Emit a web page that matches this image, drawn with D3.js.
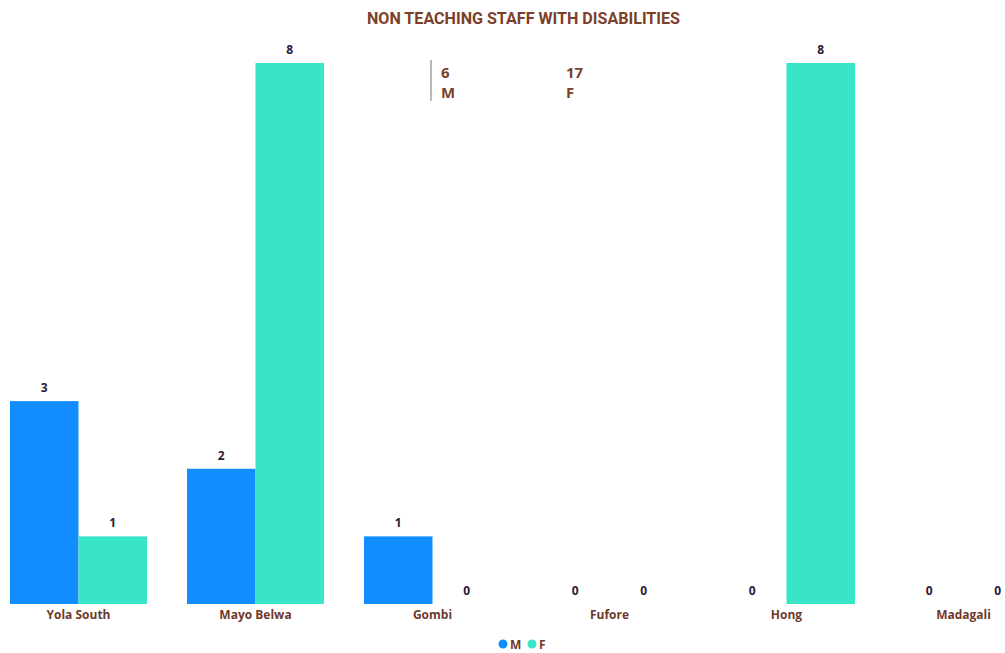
<!DOCTYPE html>
<html>
<head>
<meta charset="utf-8">
<script src="https://cdn.jsdelivr.net/npm/d3@7"></script>
<style>
  html, body { margin: 0; padding: 0; background: #ffffff; }
  svg { display: block; }
</style>
</head>
<body>
<svg id="chart" width="1005" height="653"></svg>
<script>
// Non teaching staff with disabilities, by LGA and sex
const categories = ["Yola South", "Mayo Belwa", "Gombi", "Fufore", "Hong", "Madagali"];
const seriesNames = ["M", "F"];
const maleValues = [3, 2, 1, 0, 0, 0];
const femaleValues = [1, 8, 0, 0, 8, 0];
const totalLabels = ["6", "17"];

const colors = { M: "#118DFF", F: "#38E5C6" };
const labelFont = "'Segoe UI', 'Open Sans', 'Noto Sans', sans-serif";
const titleFont = "'DIN', 'Liberation Sans Narrow', 'Roboto', sans-serif";

const svg = d3.select("#chart");
const W = 1005, H = 653;

// Scales
const x = d3.scaleBand().domain(categories).range([10, 1032]).paddingInner(40 / 177).paddingOuter(0);
const xs = d3.scaleBand().domain(seriesNames).range([0, x.bandwidth()]).padding(0);
const y = d3.scaleLinear().domain([0, 8]).range([604, 63]);

const rows = categories.map((c, i) => ({ cat: c, M: maleValues[i], F: femaleValues[i] }));

// Title
svg.append("text")
  .attr("x", 523.5).attr("y", 24)
  .attr("text-anchor", "middle")
  .attr("font-family", titleFont)
  .attr("font-weight", "bold")
  .attr("font-size", 16)
  .attr("textLength", 313)
  .attr("lengthAdjust", "spacingAndGlyphs")
  .attr("fill", "#7B3F2A")
  .text("NON TEACHING STAFF WITH DISABILITIES");

// Summary card
const card = svg.append("g");
card.append("line").attr("x1", 431).attr("x2", 431).attr("y1", 60).attr("y2", 101)
  .attr("stroke", "#a0a0a0").attr("stroke-width", 1.5);
[0, 1].forEach(i => {
  const cx = i === 0 ? 441 : 566;
  card.append("text").attr("x", cx).attr("y", 78)
    .attr("font-family", labelFont).attr("font-weight", "bold").attr("font-size", 15)
    .attr("fill", "#7B3F2A").text(totalLabels[i]);
  card.append("text").attr("x", cx).attr("y", 98)
    .attr("font-family", labelFont).attr("font-weight", "bold").attr("font-size", 15)
    .attr("fill", "#7B3F2A").text(seriesNames[i]);
});

// Bars
const groups = svg.append("g").selectAll("g").data(rows).join("g")
  .attr("transform", d => `translate(${x(d.cat)},0)`);

groups.selectAll("rect").data(d => seriesNames.map(s => ({ s, v: d[s] }))).join("rect")
  .attr("x", d => xs(d.s))
  .attr("width", xs.bandwidth())
  .attr("y", d => y(d.v))
  .attr("height", d => y(0) - y(d.v))
  .attr("fill", d => colors[d.s]);

// Value labels
groups.selectAll("text.val").data(d => seriesNames.map(s => ({ s, v: d[s] }))).join("text")
  .attr("class", "val")
  .attr("x", d => xs(d.s) + xs.bandwidth() / 2)
  .attr("y", d => y(d.v) - 9)
  .attr("text-anchor", "middle")
  .attr("font-family", labelFont).attr("font-weight", "bold").attr("font-size", 12)
  .attr("fill", "#2B1A3A")
  .text(d => d.v);

// Category axis labels
const xAxis = d3.axisBottom(x).tickSize(0).tickPadding(6);
const ax = svg.append("g").attr("transform", `translate(0,${y(0)})`).call(xAxis);
ax.select(".domain").remove();
ax.selectAll("text")
  .attr("font-family", labelFont).attr("font-weight", "bold").attr("font-size", 12)
  .attr("fill", "#6E3A2A");

// Legend
const legend = svg.append("g").attr("transform", "translate(503,644)");
seriesNames.forEach((s, i) => {
  const gx = i * 29;
  legend.append("circle").attr("cx", gx).attr("cy", 0).attr("r", 4.5).attr("fill", colors[s]);
  legend.append("text").attr("x", gx + 7).attr("y", 4.5)
    .attr("font-family", labelFont).attr("font-weight", "bold").attr("font-size", 12)
    .attr("fill", "#6E3A2A").text(s);
});
</script>
</body>
</html>
